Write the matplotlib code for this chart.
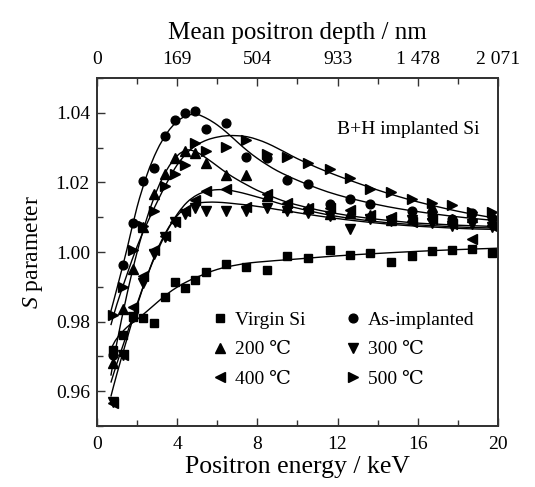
import numpy as np
import matplotlib
matplotlib.use('Agg')
import matplotlib.pyplot as plt
from matplotlib.path import Path
from matplotlib.patches import PathPatch
from matplotlib.ticker import MultipleLocator, FixedLocator

plt.rcParams['font.family'] = ['Liberation Serif', 'DejaVu Serif']
plt.rcParams['mathtext.fontset'] = 'custom'
plt.rcParams['mathtext.it'] = 'Liberation Serif:italic'
plt.rcParams['mathtext.rm'] = 'Liberation Serif'

# ---------------- data ----------------
energy = [0.8, 1.3, 1.8, 2.3, 2.85, 3.4, 3.9, 4.4, 4.9, 5.45, 6.45, 7.45,
          8.5, 9.5, 10.55, 11.6, 12.6, 13.6, 14.65, 15.7, 16.7, 17.7, 18.7, 19.7]

s_virgin = [0.9718, 0.9761, 0.9813, 0.9810, 0.9797, 0.9871, 0.9913, 0.9897,
            0.9919, 0.9944, 0.9965, 0.9956, 0.9949, 0.9988, 0.9983, 1.0007,
            0.9992, 0.9997, 0.9972, 0.9990, 1.0004, 1.0007, 1.0009, 0.9997]
s_asimpl = [0.9705, 0.9962, 1.0084, 1.0205, 1.0240, 1.0333, 1.0379, 1.0399,
            1.0405, 1.0354, 1.0371, 1.0272, 1.0270, 1.0206, 1.0194, 1.0137,
            1.0152, 1.0137, 1.0096, 1.0118, 1.0105, 1.0095, 1.0113, 1.0099]
s_200 = [0.9680, 0.9837, 0.9951, 1.0071, 1.0166, 1.0223, 1.0271, 1.0289,
         1.0285, 1.0255, 1.0220, 1.0222, 1.0160, 1.0128, 1.0125, 1.0110,
         1.0112, 1.0105, 1.0092, 1.0100, 1.0128, 1.0095, 1.0100, 1.0088]
s_300 = [0.9570, 0.9704, 0.9813, 0.9910, 0.9994, 1.0042, 1.0085, 1.0108,
         1.0125, 1.0118, 1.0118, 1.0118, 1.0125, 1.0118, 1.0112, 1.0103,
         1.0066, 1.0095, 1.0088, 1.0092, 1.0082, 1.0075, 1.0080, 1.0072]
s_400 = [0.9565, 0.9704, 0.9842, 0.9930, 1.0005, 1.0045, 1.0085, 1.0118,
         1.0149, 1.0175, 1.0180, 1.0128, 1.0166, 1.0142, 1.0125, 1.0125,
         1.0121, 1.0105, 1.0100, 1.0085, 1.0095, 1.0080, 1.0037, 1.0075]
s_500 = [0.9818, 0.9899, 1.0006, 1.0075, 1.0118, 1.0190, 1.0225, 1.0249,
         1.0312, 1.0289, 1.0301, 1.0323, 1.0282, 1.0272, 1.0256, 1.0237,
         1.0212, 1.0180, 1.0171, 1.0153, 1.0140, 1.0134, 1.0115, 1.0115]

# fitted curves
fit_e_virgin = [0.7, 1.0, 1.5, 2.0, 2.5, 3.0, 3.5, 4.0, 4.5, 5.0, 6.0, 7.0, 8.0,
                10, 12, 14, 16, 18, 20]
fit_virgin = [0.9722, 0.9752, 0.9784, 0.9806, 0.9830, 0.9855, 0.9879, 0.9899,
              0.9915, 0.9928, 0.9950, 0.9963, 0.9971, 0.9980, 0.9989, 0.9996,
              1.0002, 1.0007, 1.0011]

fit_e = [0.7, 1.0, 1.5, 2.0, 2.5, 3.0, 3.5, 4.0, 4.5, 5.0, 5.5, 6.0, 6.5, 7.0,
         7.5, 8.0, 8.5, 9.0, 9.5, 10, 11, 12, 13, 14, 15, 16, 17, 18, 19, 20]
fit_asimpl = [0.9830, 0.9895, 1.0008, 1.0128, 1.0222, 1.0292, 1.0342, 1.0375,
              1.0392, 1.0395, 1.0383, 1.0365, 1.0342, 1.0316, 1.0291, 1.0269,
              1.0250, 1.0233, 1.0219, 1.0206, 1.0183, 1.0164, 1.0149, 1.0136,
              1.0125, 1.0116, 1.0108, 1.0101, 1.0095, 1.0090]
fit_200 = [0.9645, 0.9740, 0.9878, 0.9998, 1.0098, 1.0178, 1.0237, 1.0276,
           1.0293, 1.0286, 1.0268, 1.0247, 1.0226, 1.0208, 1.0192, 1.0177,
           1.0165, 1.0153, 1.0143, 1.0135, 1.0121, 1.0110, 1.0101, 1.0094,
           1.0088, 1.0083, 1.0080, 1.0077, 1.0075, 1.0073]
fit_300 = [0.9585, 0.9650, 0.9750, 0.9845, 0.9930, 1.0005, 1.0063, 1.0104,
           1.0128, 1.0140, 1.0143, 1.0143, 1.0141, 1.0138, 1.0135, 1.0131,
           1.0127, 1.0122, 1.0118, 1.0113, 1.0104, 1.0096, 1.0089, 1.0083,
           1.0078, 1.0074, 1.0071, 1.0068, 1.0066, 1.0065]
fit_400 = [0.9625, 0.9680, 0.9765, 0.9850, 0.9930, 1.0000, 1.0060, 1.0108,
           1.0143, 1.0164, 1.0175, 1.0179, 1.0178, 1.0173, 1.0166, 1.0158,
           1.0150, 1.0141, 1.0133, 1.0126, 1.0113, 1.0102, 1.0094, 1.0087,
           1.0082, 1.0078, 1.0075, 1.0072, 1.0070, 1.0069]
fit_500 = [0.9790, 0.9850, 0.9935, 1.0015, 1.0082, 1.0143, 1.0200, 1.0250,
           1.0285, 1.0308, 1.0322, 1.0330, 1.0334, 1.0334, 1.0331, 1.0323,
           1.0312, 1.0298, 1.0283, 1.0268, 1.0242, 1.0219, 1.0198, 1.0178,
           1.0160, 1.0144, 1.0130, 1.0117, 1.0106, 1.0096]

labels = ['Virgin Si', '200 ℃', '400 ℃', 'As-implanted', '300 ℃', '500 ℃']
top_ticks_kev = [0, 4, 8, 12, 16, 20]
top_tick_labels = ['0', '169', '504', '933', '1 478', '2 071']

# ---------------- drawing ----------------
def smooth_curve(ax, x, y, **kw):
    pts = np.column_stack([np.asarray(x, float), np.asarray(y, float)])
    ext = np.vstack([2 * pts[0] - pts[1], pts, 2 * pts[-1] - pts[-2]])
    verts = [pts[0]]
    codes = [Path.MOVETO]
    for i in range(len(pts) - 1):
        p0, p1, p2, p3 = ext[i], ext[i + 1], ext[i + 2], ext[i + 3]
        c1 = p1 + (p2 - p0) / 6.0
        c2 = p2 - (p3 - p1) / 6.0
        verts += [c1, c2, p2]
        codes += [Path.CURVE4] * 3
    ax.add_patch(PathPatch(Path(verts, codes), fill=False, **kw))

fig = plt.figure(figsize=(5.35, 4.87), dpi=100)
ax = fig.add_axes([0.181, 0.125, 0.750, 0.715])

line_kw = dict(edgecolor='black', linewidth=1.0)
smooth_curve(ax, fit_e_virgin, fit_virgin, **line_kw)
for f in (fit_asimpl, fit_200, fit_300, fit_400, fit_500):
    smooth_curve(ax, fit_e, f, **line_kw)

mk = dict(ls='none', color='black')
h_v, = ax.plot(energy, s_virgin, marker='s', ms=5.5, **mk)
h_a, = ax.plot(energy, s_asimpl, marker='o', ms=6.3, **mk)
h_2, = ax.plot(energy, s_200, marker='^', ms=7.2, **mk)
h_3, = ax.plot(energy, s_300, marker='v', ms=7.2, **mk)
h_4, = ax.plot(energy, s_400, marker='<', ms=7.2, **mk)
h_5, = ax.plot(energy, s_500, marker='>', ms=7.2, **mk)

ax.set_xlim(0, 20)
ax.set_ylim(0.95, 1.05)
ax.xaxis.set_major_locator(MultipleLocator(4))
ax.xaxis.set_minor_locator(MultipleLocator(2))
ax.yaxis.set_major_locator(FixedLocator([0.96, 0.98, 1.00, 1.02, 1.04]))
ax.yaxis.set_minor_locator(MultipleLocator(0.01))
ax.yaxis.set_major_formatter(matplotlib.ticker.FormatStrFormatter('%.2f'))
ax.tick_params(which='both', direction='in', labelsize=14, width=1.0,
               color='#333333', right=False, top=False)
ax.tick_params(which='major', length=6)
ax.tick_params(which='minor', length=4)
ax.tick_params(axis='x', pad=7)
ax.tick_params(axis='y', pad=5)
for sp in ax.spines.values():
    sp.set_linewidth(1.3)
    sp.set_color('#333333')

ax.set_xlabel('Positron energy / keV', fontsize=18.5, labelpad=2)
ax.set_ylabel(r'$\mathit{S}$ parameter', fontsize=17, labelpad=8)

ax2 = ax.twiny()
ax2.set_xlim(ax.get_xlim())
ax2.set_xticks(top_ticks_kev)
ax2.set_xticklabels(top_tick_labels)
ax2.xaxis.set_minor_locator(MultipleLocator(2))
ax2.tick_params(which='both', direction='in', labelsize=14, width=1.0,
                color='#333333', pad=7)
ax2.tick_params(which='major', length=6)
ax2.tick_params(which='minor', length=4)
ax2.set_xlabel('Mean positron depth / nm', fontsize=18, labelpad=9)
for sp in ax2.spines.values():
    sp.set_linewidth(1.3)
    sp.set_color('#333333')

ax.text(0.775, 0.853, 'B+H implanted Si', transform=ax.transAxes,
        ha='center', va='center', fontsize=14)

ax.legend([h_v, h_2, h_4, h_a, h_3, h_5], labels, ncol=2, frameon=False,
          loc='upper left', bbox_to_anchor=(0.2825, 0.33), fontsize=14,
          handlelength=1.0, handletextpad=0.3, columnspacing=1.9,
          labelspacing=0.62, borderpad=0.0, borderaxespad=0.0)

fig.savefig('out.png', dpi=100)
